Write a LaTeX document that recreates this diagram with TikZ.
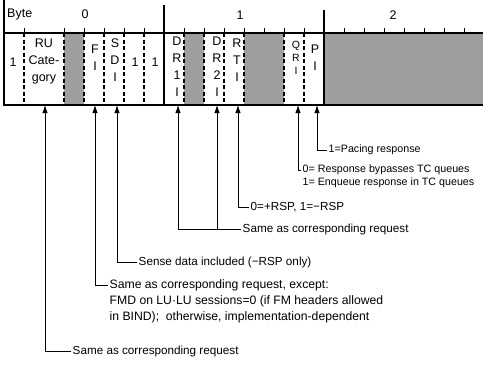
\documentclass[tikz,border=0pt]{standalone}
\usepackage{fontspec}
\setmainfont{Liberation Sans}
\usetikzlibrary{arrows.meta}
\begin{document}
\begin{tikzpicture}[x=1pt,y=-1pt,
  cell/.style={inner sep=0pt, align=center, font=\fontsize{12.5}{17}\selectfont},
  small cell/.style={inner sep=0pt, align=center, font=\fontsize{10.5}{13}\selectfont},
  lbl/.style={anchor=west, inner sep=1.5pt, font=\fontsize{11.7}{13}\selectfont},
  flbl/.style={anchor=west, inner sep=1.5pt, font=\fontsize{12.2}{13}\selectfont},
  slbl/.style={anchor=west, inner sep=1.5pt, font=\fontsize{10.7}{12}\selectfont},
  hdr/.style={inner sep=0pt, font=\fontsize{12.5}{14}\selectfont},
  shade/.style={fill=black!38, draw=none},
  bitline/.style={line width=1.1pt, dash pattern=on 4pt off 2.5pt},
  frame/.style={line width=1.4pt},
  tick/.style={line width=1pt},
  conn/.style={line width=0.9pt, -{Latex[length=8pt,width=5.5pt]}}]
\useasboundingbox (0,0) rectangle (483,365);
% shaded (reserved) fields
\fill[shade] (64,33) rectangle (84,105);
\fill[shade] (184,33) rectangle (204,105);
\fill[shade] (244,33) rectangle (284,105);
\fill[shade] (324,33) rectangle (483,105);
% frame
\draw[frame] (4,0) -- (4,105) -- (483,105);
\draw[line width=1.8pt] (4,33) -- (483,33);
\draw[frame] (164,5) -- (164,105);
\draw[frame] (324,10) -- (324,105);
% bit dividers
\foreach \x in {24,64,84,104,124,144,184,204,224,244,284,304}
  \draw[bitline] (\x,33) -- (\x,105);
% ticks
\foreach \x in {24,64,84,104,124,144,184,204,224,244,264,284,304,344,364,384,404,424,444,464}
  \draw[tick] (\x,28) -- (\x,33);
% header
\node[hdr, anchor=west] (byte) at (7,14) {Byte};
\node[hdr] (b0) at (85,14) {0};
\node[hdr] (b1) at (240,15) {1};
\node[hdr] (b2) at (393,15) {2};
% cells
\node[cell] (c0) at (13,62) {1};
\node[cell] (ru) at (44,61) {RU\\Cate-\\gory};
\node[cell] (fi) at (95,58) {F\\I};
\node[cell] (sdi) at (115,60) {S\\D\\I};
\node[cell] (c6) at (135,62) {1};
\node[cell] (c7) at (155,62) {1};
\node[cell] (dr1) at (177,67) {D\\R\\1\\I};
\node[cell] (dr2) at (217,67) {D\\R\\2\\I};
\node[cell] (rti) at (237,60) {R\\T\\I};
\node[small cell] (qri) at (296,58) {Q\\R\\I};
\node[cell] (pi) at (315,58) {P\\I};
% arrow targets at the bottom of the fields
\coordinate (aRU) at (45,105);
\coordinate (aFI) at (95,105);
\coordinate (aSD) at (117,105);
\coordinate (aDR1) at (178,105);
\coordinate (aDR2) at (217,105);
\coordinate (aRT) at (238,105);
\coordinate (aQR) at (298,105);
\coordinate (aPI) at (317,105);
% labels
\node[slbl] (lPI) at (327,150) {1=Pacing response};
\node[slbl] (lQ1) at (301,170) {0= Response bypasses TC queues};
\node[slbl] (lQ2) at (301,183) {1= Enqueue response in TC queues};
\node[lbl] (lRT) at (249,207) {0=+RSP, 1=−RSP};
\node[lbl] (lDR) at (241,229) {Same as corresponding request};
\node[lbl] (lSD) at (137,262) {Sense data included (−RSP only)};
\node[flbl] (lF1) at (108,285) {Same as corresponding request, except:};
\node[flbl] (lF2) at (108,301) {FMD on LU·LU sessions=0 (if FM headers allowed};
\node[flbl] (lF3) at (108,317) {in BIND);\ \ otherwise, implementation-dependent};
\node[lbl] (lRU) at (71,351) {Same as corresponding request};
% connectors
\draw[conn] (lPI.west) -| (aPI);
\draw[conn] (lQ1.west) -| (aQR);
\draw[conn] (lRT.west) -| (aRT);
\draw[conn] (lDR.west) -| (aDR2);
\draw[conn] (aDR2 |- lDR.west) -| (aDR1);
\draw[conn] (lSD.west) -| (aSD);
\draw[conn] (lF1.west) -| (aFI);
\draw[conn] (lRU.west) -| (aRU);
\end{tikzpicture}
\end{document}
